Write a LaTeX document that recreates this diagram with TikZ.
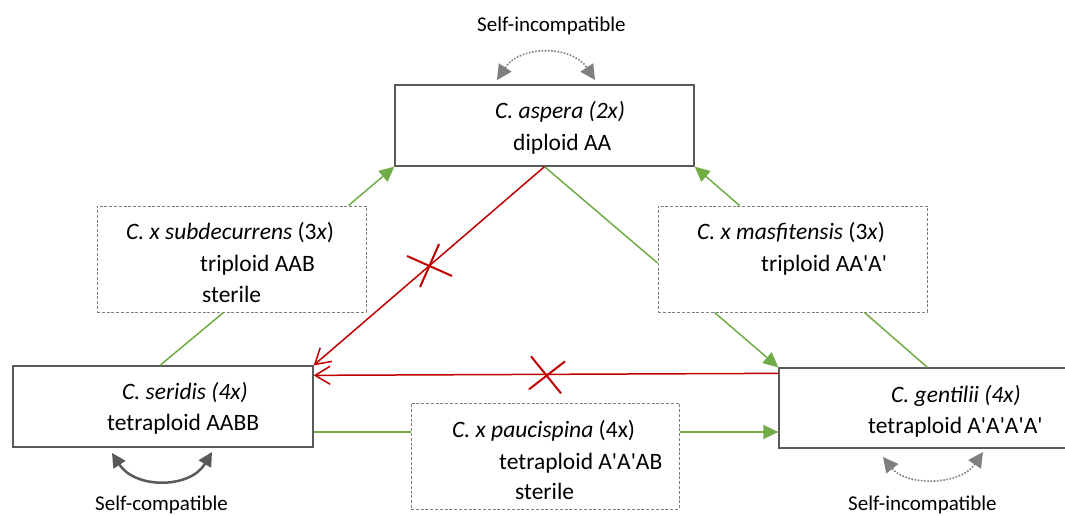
\documentclass[tikz,border=0pt]{standalone}
\usepackage{fontspec}
\setmainfont{Carlito}
\usetikzlibrary{arrows.meta,calc}
\definecolor{grn}{HTML}{70AD47}
\definecolor{rd}{HTML}{C00000}
\definecolor{bx}{HTML}{595959}
\definecolor{gy}{HTML}{7F7F7F}
\newcommand\ap{\textquotesingle}
\begin{document}
\begin{tikzpicture}[x=1pt,y=-1pt]
\tikzset{
 solidbox/.style={draw=bx, line width=1.3pt, inner sep=0pt},
 dashbox/.style={draw=gy, line width=1pt, dash pattern=on 3pt off 1.8pt, inner sep=0pt},
 txt/.style={anchor=base west, inner sep=0pt, font=\fontsize{23.5}{28}\selectfont},
 lbl/.style={anchor=base west, inner sep=0pt, font=\fontsize{21}{25}\selectfont},
 gline/.style={draw=grn, line width=1.5pt},
 garrow/.style={gline, -{Triangle[length=15pt,width=14pt]}},
 rarrow/.style={draw=rd, line width=1.5pt, -{Straight Barb[length=15pt,width=18pt]}},
 rcross/.style={draw=rd, line width=2pt},
 dotarc/.style={draw=gy, line width=1.6pt, dash pattern=on 1.6pt off 1.6pt, {Triangle[length=15pt,width=15pt,fill=gy]}-{Triangle[length=15pt,width=15pt,fill=gy]}},
 solidarc/.style={draw=bx, line width=2.5pt, {Triangle[length=14pt,width=14pt]}-{Triangle[length=14pt,width=14pt]}},
}
\useasboundingbox (0,0) rectangle (1065,516);
\fill[white] (0,0) rectangle (1065,516);

% boxes
\node[solidbox, minimum width=299pt, minimum height=81pt] (aspera) at (544.5,125.5) {};
\node[dashbox, minimum width=269pt, minimum height=106pt] (subdec) at (231.5,259) {};
\node[solidbox, minimum width=300pt, minimum height=81pt] (seridis) at (163,406.5) {};
\node[dashbox, minimum width=268pt, minimum height=106pt] (pauci) at (545,456) {};
\node[dashbox, minimum width=269pt, minimum height=106pt] (masfit) at (792.5,259) {};
\node[solidbox, minimum width=296pt, minimum height=80pt] (gentilii) at (927,408) {};

% texts
\node[lbl] (tsi) at (477,32) {Self-incompatible};
\node[txt] (asp1) at (495,119) {\itshape C. aspera (2x)};
\node[txt] (asp2) at (513,150) {diploid AA};
\node[txt] (sub1) at (126,239) {{\itshape C. x subdecurrens} (3\textit{x})};
\node[txt] (sub2) at (200,271) {triploid AAB};
\node[txt] (sub3) at (202,302) {sterile};
\node[txt] (mas1) at (697,239) {{\itshape C. x masfitensis} (3\textit{x})};
\node[txt] (mas2) at (761,271) {triploid AA\ap A\ap};
\node[txt] (ser1) at (122,399) {\itshape C. seridis (4x)};
\node[txt] (ser2) at (107,430) {tetraploid AABB};
\node[txt] (pau1) at (452,437) {{\itshape C. x paucispina} (4x)};
\node[txt] (pau2) at (499,469) {tetraploid A\ap A\ap AB};
\node[txt] (pau3) at (515,499) {sterile};
\node[txt] (gen1) at (891,402) {\itshape C. gentilii (4x)};
\node[txt] (gen2) at (868,433) {tetraploid A\ap A\ap A\ap A\ap};
\node[lbl] (lsc) at (95,510.5) {Self-compatible};
\node[lbl] (lsi) at (848,510.5) {Self-incompatible};

% self arcs
\coordinate (a1) at (497,80); \coordinate (a2) at (595,80);
\draw[dotarc] (a1) .. controls (520,45) and (572,45) .. (a2);
\coordinate (s1) at (112,453); \coordinate (s2) at (212,452);
\draw[solidarc] (s1) .. controls (135,489) and (190,489) .. (s2);
\coordinate (g1) at (883,457); \coordinate (g2) at (983,452);
\draw[dotarc] (g1) .. controls (906,486) and (960,486) .. (g2);

% green connectors
\draw[garrow] ([xshift=-18pt]subdec.north east) -- (aspera.south west);
\draw[gline] ([xshift=-3pt]seridis.north) -- ([xshift=-8pt]subdec.south);
\draw[gline] (aspera.south) -- ([yshift=-4pt]masfit.west);
\draw[garrow] ([xshift=82pt]masfit.north west) -- (aspera.south east);
\draw[garrow] ([xshift=57pt]masfit.south west) -- (gentilii.north west);
\draw[gline] ([xshift=149pt]gentilii.north west) -- ([xshift=-63pt]masfit.south east);
\draw[gline] ([yshift=-25.5pt]seridis.east) -- ([yshift=24pt]pauci.west);
\draw[garrow] ([yshift=24pt]pauci.east) -- ([yshift=-24pt]gentilii.west);

% red connectors
\draw[rarrow] (aspera.south) -- coordinate[pos=0.5] (xa) (seridis.north east);
\draw[rcross] (xa) +(-22,-10) -- +(23,10);
\draw[rcross] (xa) +(10,-22) -- +(-9,21);
\draw[rarrow] ([yshift=-6pt]gentilii.north west) -- coordinate[pos=0.5] (xb) ([yshift=-10pt]seridis.north east);
\draw[rcross] (xb) +(-15,-18) -- +(15,19);
\draw[rcross] (xb) +(19,-13) -- +(-17,15);
\end{tikzpicture}
\end{document}
